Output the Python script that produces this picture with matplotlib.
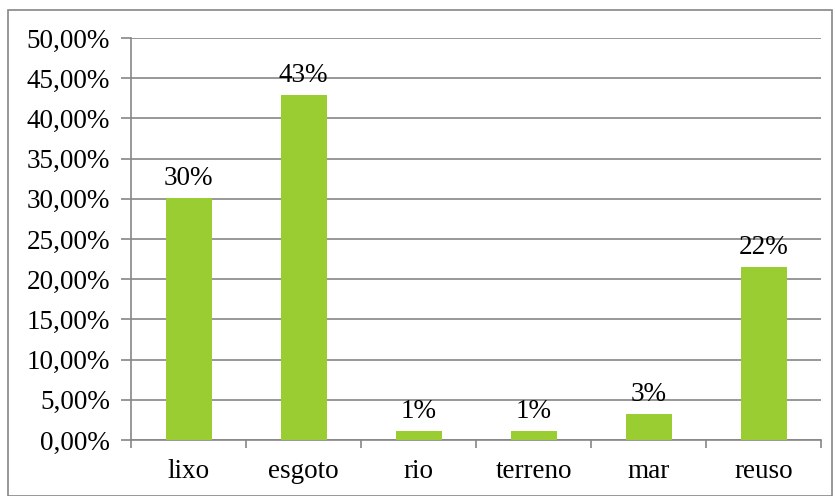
import matplotlib
matplotlib.use("Agg")
import matplotlib.pyplot as plt
from matplotlib.patches import Rectangle
from matplotlib.ticker import FuncFormatter, MultipleLocator

categories = ["lixo", "esgoto", "rio", "terreno", "mar", "reuso"]
values = [30.1, 42.9, 1.1, 1.1, 3.2, 21.5]
labels = ["30%", "43%", "1%", "1%", "3%", "22%"]

plt.rcParams['font.family'] = ['Liberation Serif', 'DejaVu Serif']
fig = plt.figure(figsize=(8.35, 4.96), dpi=100)
ax = fig.add_axes([131/835, 1-440/496, (821-131)/835, (440-38)/496])

grid_c = '#868686'
fs = 19.5
x = list(range(len(categories)))
ax.bar(x, values, width=0.4, color='#9ACD32', zorder=3)
for xi, v, lab in zip(x, values, labels):
    ax.annotate(lab, (xi, v), xytext=(0, 5), textcoords='offset points',
                ha='center', va='bottom', fontsize=fs, color='black')

ax.set_xlim(-0.5, len(categories) - 0.5)
ax.set_ylim(0, 50)
ax.yaxis.set_major_locator(MultipleLocator(5))
ax.yaxis.set_major_formatter(FuncFormatter(lambda v, p: f"{v:.2f}%".replace('.', ',')))
ax.grid(axis='y', color=grid_c, linewidth=1.2, zorder=0)
ax.set_xticks(x)
ax.set_xticklabels(categories)
ax.set_xticks([i - 0.5 for i in range(len(categories) + 1)], minor=True)
ax.tick_params(axis='x', which='major', length=0, pad=14, labelsize=fs)
ax.tick_params(axis='x', which='minor', length=6, width=1.2, color=grid_c, direction='out')
ax.tick_params(axis='y', length=7, width=1.2, color=grid_c, direction='out', labelsize=fs, pad=8)
for s in ['top', 'right']:
    ax.spines[s].set_visible(False)
for s in ['left', 'bottom']:
    ax.spines[s].set_color(grid_c)
    ax.spines[s].set_linewidth(1.2)

fig.patches.append(Rectangle((8/835, 0), (832-8)/835, 1-10/496, transform=fig.transFigure,
                             fill=False, edgecolor='#868686', linewidth=1.2))
fig.savefig("out.png", dpi=100)
